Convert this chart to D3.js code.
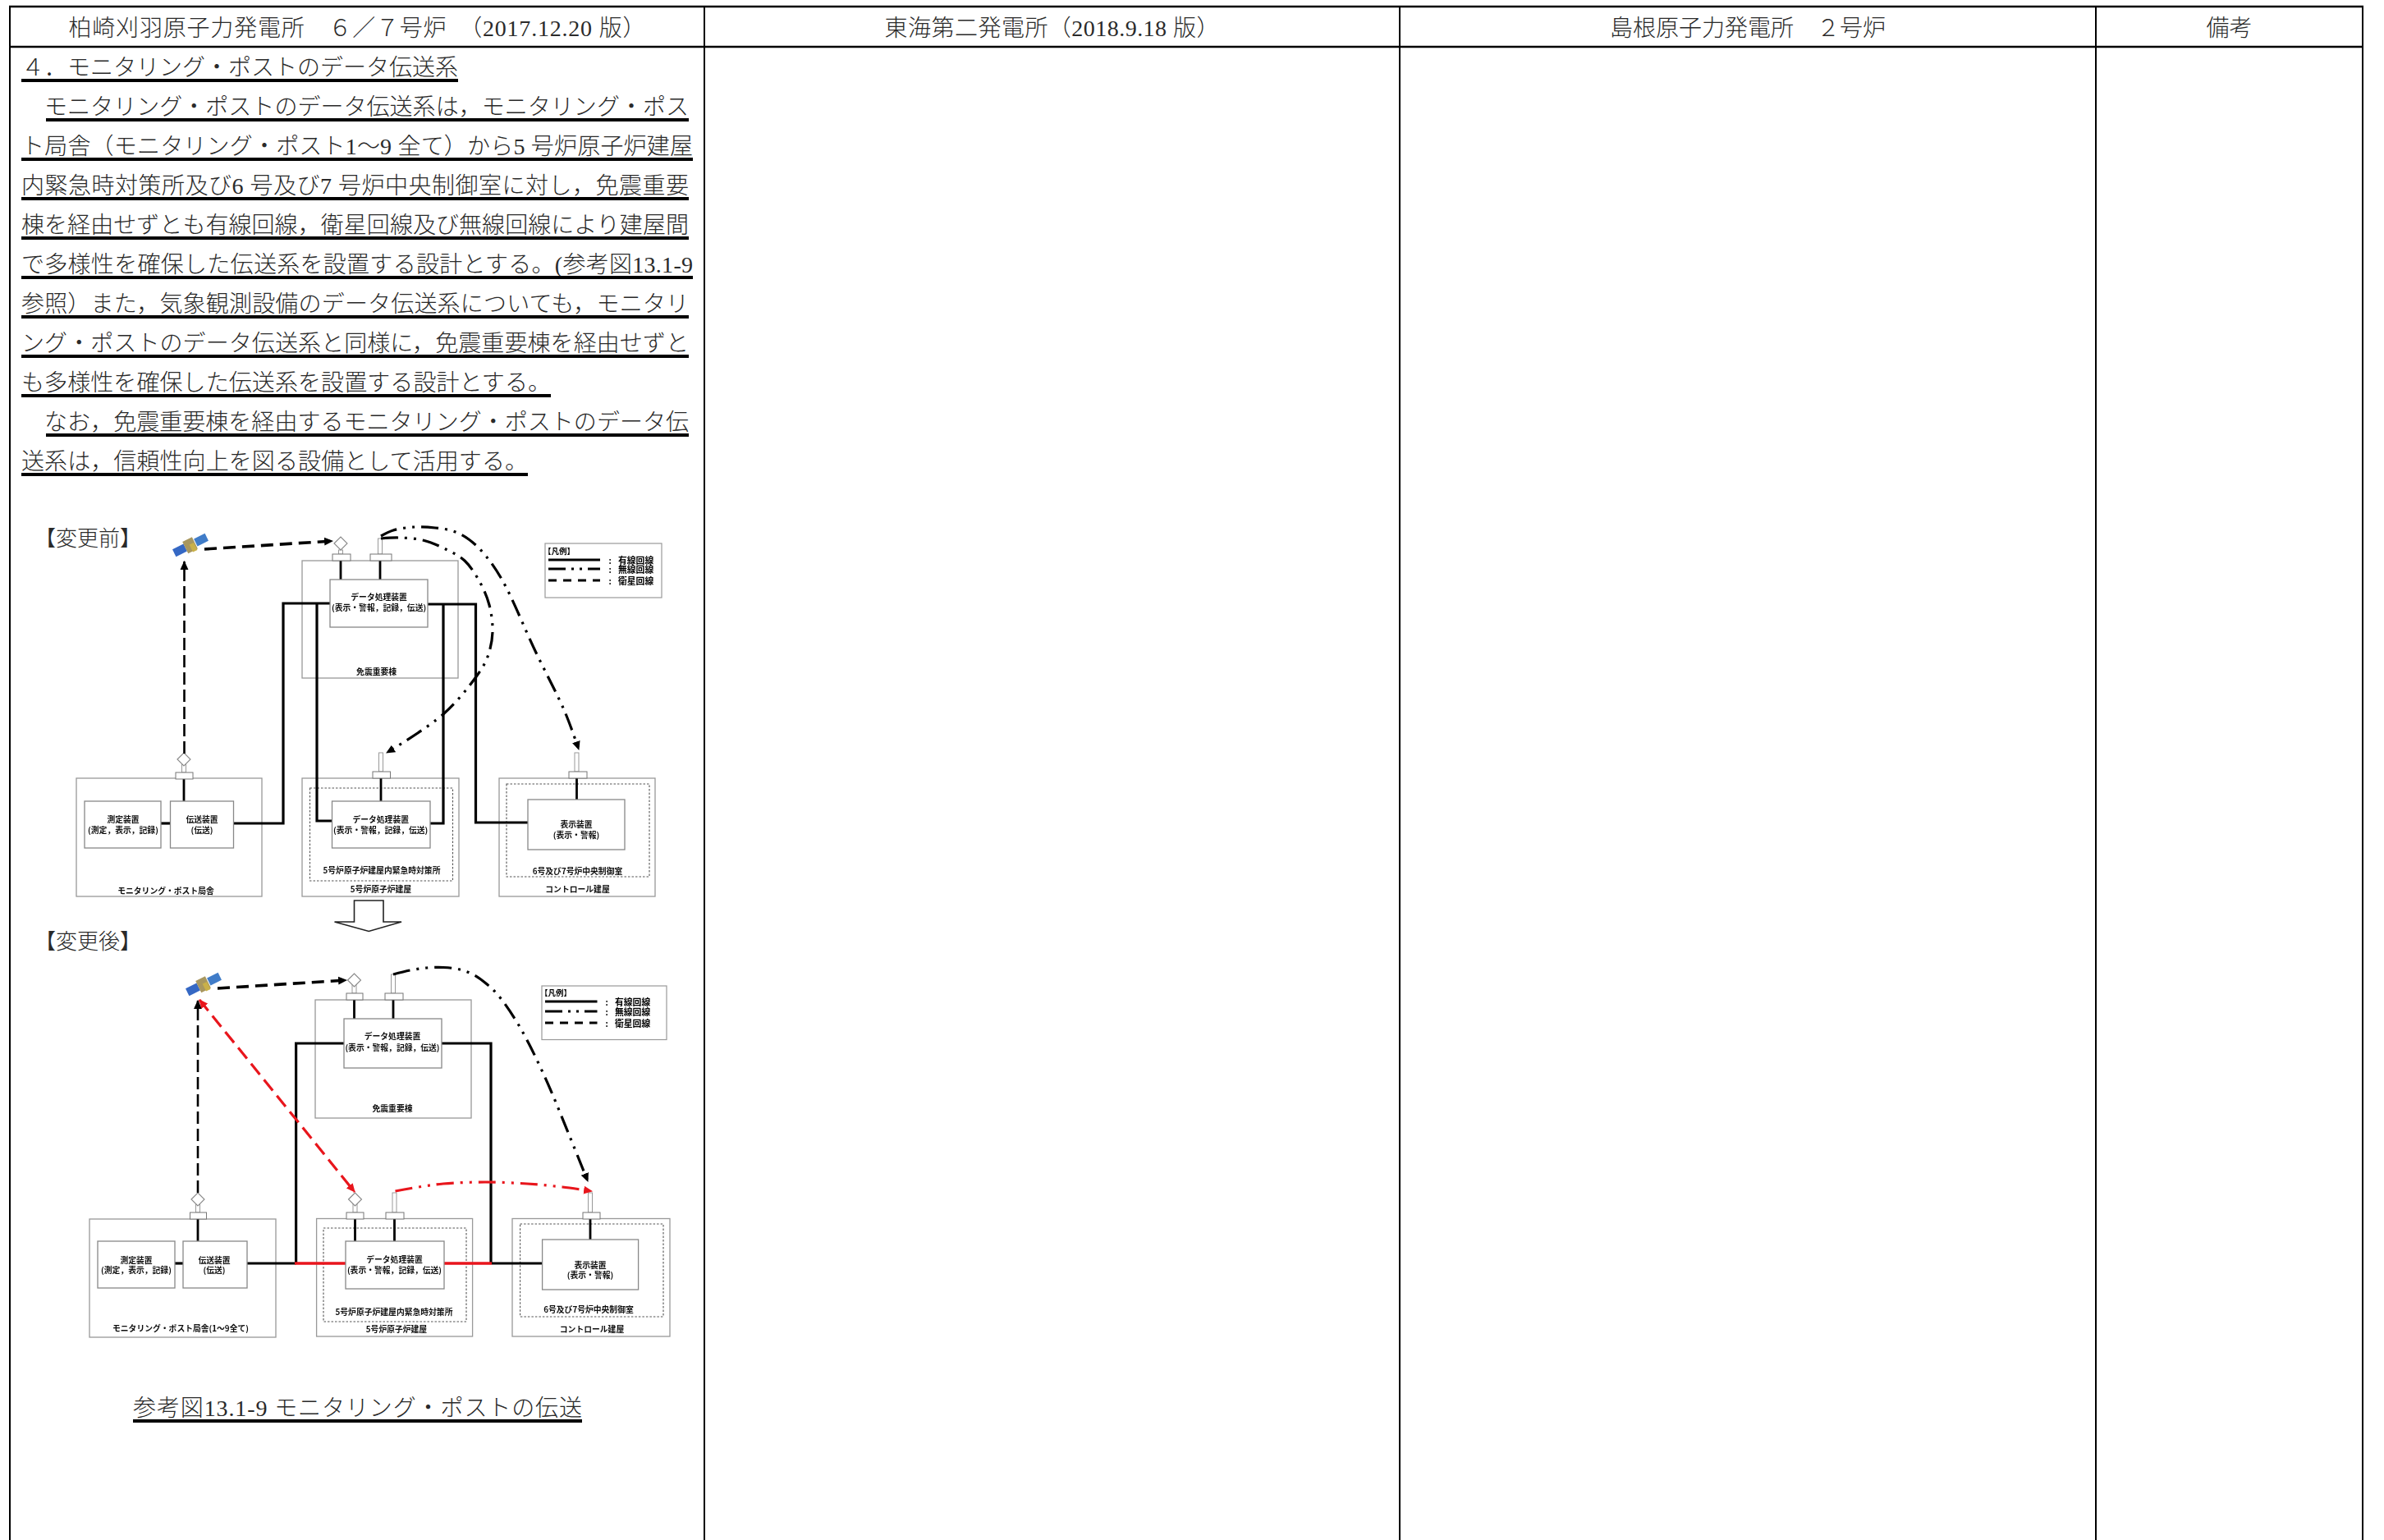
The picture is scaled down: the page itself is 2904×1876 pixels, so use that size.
<!DOCTYPE html>
<html lang="ja">
<head>
<meta charset="utf-8">
<title>モニタリング・ポストのデータ伝送系</title>
<script src="https://cdn.jsdelivr.net/npm/d3@7"></script>
<style>
  html, body { margin: 0; padding: 0; background: #fff; }
  svg { display: block; }
  text { font-family: "Liberation Serif", "Noto Sans CJK JP", sans-serif; white-space: pre; }
  .diagram text { font-family: "Noto Sans CJK JP", sans-serif; }
</style>
</head>
<body>
<script>
////////////////////////////////////////////////////////////
//////////////////////// Text content //////////////////////
////////////////////////////////////////////////////////////

var headerTitles = [
  "柏崎刈羽原子力発電所　６／７号炉　（2017.12.20 版）",
  "東海第二発電所（2018.9.18 版）",
  "島根原子力発電所　２号炉",
  "備考"
];

var proseLines = [
  "４．モニタリング・ポストのデータ伝送系",
  "　モニタリング・ポストのデータ伝送系は，モニタリング・ポス",
  "ト局舎（モニタリング・ポスト1～9 全て）から5 号炉原子炉建屋",
  "内緊急時対策所及び6 号及び7 号炉中央制御室に対し，免震重要",
  "棟を経由せずとも有線回線，衛星回線及び無線回線により建屋間",
  "で多様性を確保した伝送系を設置する設計とする。(参考図13.1-9",
  "参照）また，気象観測設備のデータ伝送系についても，モニタリ",
  "ング・ポストのデータ伝送系と同様に，免震重要棟を経由せずと",
  "も多様性を確保した伝送系を設置する設計とする。",
  "　なお，免震重要棟を経由するモニタリング・ポストのデータ伝",
  "送系は，信頼性向上を図る設備として活用する。"
];

var figureCaption = "参考図13.1-9 モニタリング・ポストの伝送";
var panelTitles = ["【変更前】", "【変更後】"];
var legendTitle = "【凡例】";
var legendLabels = ["有線回線", "無線回線", "衛星回線"];

var beforeLabels = [
  "データ処理装置", "(表示・警報，記録，伝送)", "免震重要棟",
  "測定装置", "(測定，表示，記録)", "伝送装置", "(伝送)", "モニタリング・ポスト局舎",
  "データ処理装置", "(表示・警報，記録，伝送)", "5号炉原子炉建屋内緊急時対策所", "5号炉原子炉建屋",
  "表示装置", "(表示・警報)", "6号及び7号炉中央制御室", "コントロール建屋"
];
var afterLabels = beforeLabels.slice();
afterLabels[7] = "モニタリング・ポスト局舎(1～9全て)";

////////////////////////////////////////////////////////////
//////////////////////// Page layout ///////////////////////
////////////////////////////////////////////////////////////

var columnEdges = [12, 858, 1705, 2553, 2878];
var headerWidths = [703, 408, 336, 56];
var ruleTop = 8, ruleHeader = 57, pageBottom = 1876;

var textSize = 28;
var lineY = d3.scaleLinear().domain([0, proseLines.length - 1]).range([98, 578]);
var proseWidths = [532, 813, 818, 813, 813, 818, 813, 813, 645, 813, 617];
var captionWidth = 547;

// one table per panel, all in page pixels
var beforePanel = {
  title: [42, 653],
  buildings: [[93, 948, 226, 144], [368, 683, 190, 143], [368, 948, 191, 144], [608, 948, 190, 144]],
  inner: [[377.5, 960, 174, 113], [617, 955, 174, 113]],
  boxes: [[103, 976, 93, 57], [207.5, 976, 77, 57], [402, 706, 119, 58], [404.5, 976, 119.5, 57], [643, 974, 118, 61]],
  wires: [
    [[196, 1003], [207.5, 1003]],
    [[284.6, 1003], [345, 1003], [345, 735], [402, 735]],
    [[386, 735], [386, 1000], [404.5, 1000]],
    [[521, 736], [579.5, 736], [579.5, 1002], [643, 1002]],
    [[540, 736], [540, 1003], [524, 1003]]
  ],
  risers: [[224, 949, 976], [415, 683, 706], [463, 683, 706], [464, 948, 976], [702.5, 948, 974]],
  bases: [[214, 941, 21], [405, 675, 22], [451, 675, 26], [454, 940, 21.5], [693, 940, 22]],
  stems: [[224, 930, 941], [415, 670, 675], [463, 656, 675], [464, 917, 940], [702.5, 917, 940]],
  diamonds: [[224, 925], [415, 662]],
  satellite: [232, 664],
  satDashes: [
    { pts: [[224.5, 918], [224.5, 684]], w: 2.6, dash: "15 6", color: "#000" },
    { pts: [[249, 669], [405, 659]], w: 3.6, dash: "15 8", color: "#000" }
  ],
  radios: [
    { pts: [[464, 656], [486, 655], [515, 658], [545, 670], [566, 683], [585, 710], [596, 737], [600, 770], [594, 800], [581, 823], [540, 870], [471, 917]], color: "#000" },
    { pts: [[464, 653], [479, 646], [505, 642], [530, 643], [552, 647], [571, 657], [590, 675], [612, 707], [652, 793], [688, 867], [705, 913]], color: "#000" }
  ],
  horizontalRed: [],
  legend: { box: [664, 662, 142, 66], title: [662, 671], lineX: [668, 731], lineY: [682, 693, 707], colonX: 743, labelX: 753 },
  arrow: [431.5, 467, 1097, 1123, 407.5, 489, 1134.5],
  labelPos: [
    [461.6, 727], [461.6, 740], [458.6, 818],
    [150, 998], [150, 1011], [246, 998], [246, 1011], [202, 1085],
    [463.7, 998], [463.7, 1011], [465, 1060], [464, 1082.7],
    [702, 1004], [702, 1017], [703.5, 1061], [703.5, 1083]
  ]
};

var afterPanel = {
  title: [42, 1144],
  buildings: [[109, 1485, 227, 144], [384, 1218, 190, 144], [385.6, 1484.5, 190, 143.5], [624, 1484.5, 192, 143.5]],
  inner: [[394, 1496, 174, 114], [633.6, 1491, 174.4, 113]],
  boxes: [[119, 1512, 94, 57], [223, 1512, 78, 57], [419, 1241, 119, 60], [421, 1512, 120, 58], [660.6, 1510, 117, 61]],
  wires: [
    [[213, 1539], [223, 1539]],
    [[301, 1539], [360.6, 1539]],
    [[360.6, 1539], [360.6, 1271], [419, 1271]],
    [[538, 1271], [598, 1271], [598, 1539]],
    [[599, 1539], [660.6, 1539]]
  ],
  risers: [[241, 1485, 1512], [431.5, 1218, 1241], [479, 1218, 1241], [432.5, 1484.5, 1512], [480.5, 1484.5, 1512], [719, 1484.5, 1510]],
  bases: [[231.5, 1477, 20], [422, 1210, 20], [469, 1210, 22], [422, 1477, 21], [470, 1477, 22], [710, 1477, 21]],
  stems: [[241, 1466, 1477], [431.5, 1199, 1210], [479, 1187, 1210], [432.5, 1466, 1477], [480.5, 1453, 1477], [719, 1453, 1477]],
  diamonds: [[241, 1461], [431.5, 1194], [432.5, 1461]],
  satellite: [248, 1199],
  satDashes: [
    { pts: [[241, 1453], [241, 1219]], w: 2.6, dash: "15 6", color: "#000" },
    { pts: [[265, 1204], [422, 1194]], w: 3.6, dash: "15 8", color: "#000" },
    { pts: [[243, 1218], [432, 1452]], w: 3.2, dash: "17 8", color: "#e8141c", both: true }
  ],
  radios: [
    { pts: [[479, 1187], [499.5, 1182], [520, 1179], [540, 1178.5], [560, 1181], [578, 1188], [592, 1198], [606.5, 1212], [632, 1249], [662.7, 1309.7], [693, 1382], [716, 1439]], color: "#000" },
    { pts: [[481.5, 1451], [510, 1446], [540, 1442], [591, 1440], [642, 1442], [685, 1446], [721, 1451]], color: "#e8141c" }
  ],
  horizontalRed: [[[359, 1539], [421, 1539]], [[541, 1539], [599, 1539]]],
  legend: { box: [660, 1201, 152, 65.5], title: [658, 1209], lineX: [664, 727.5], lineY: [1220, 1232, 1246], colonX: 739, labelX: 749 },
  arrow: null,
  labelPos: [
    [478, 1262], [478, 1275.5], [478, 1350],
    [166, 1535], [166, 1547], [261, 1535], [261, 1547], [220, 1617.6],
    [480.5, 1534], [480.5, 1546.5], [480, 1598], [483, 1619],
    [719, 1540.7], [719, 1553], [717, 1595], [721, 1619]
  ]
};

////////////////////////////////////////////////////////////
////////////////////// Create SVG //////////////////////////
////////////////////////////////////////////////////////////

var svg = d3.select("body").append("svg")
  .attr("width", 2904)
  .attr("height", 1876);

var defs = svg.append("defs");

defs.append("filter")
  .attr("id", "soft")
  .attr("x", "-5%").attr("y", "-5%").attr("width", "110%").attr("height", "110%")
  .append("feGaussianBlur")
  .attr("stdDeviation", 0.55);

function addArrow(id, color) {
  defs.append("marker")
    .attr("id", id)
    .attr("markerUnits", "userSpaceOnUse")
    .attr("viewBox", "0 0 10 10")
    .attr("refX", 9).attr("refY", 5)
    .attr("markerWidth", 11).attr("markerHeight", 11)
    .attr("orient", "auto-start-reverse")
    .append("path")
    .attr("d", "M0,0.5L10,5L0,9.5Z")
    .attr("fill", color);
}
addArrow("arrowBlack", "#000");
addArrow("arrowRed", "#e8141c");

svg.append("rect").attr("width", 2904).attr("height", 1876).attr("fill", "#fff");

////////////////////////////////////////////////////////////
////////////////////// Draw the table //////////////////////
////////////////////////////////////////////////////////////

var table = svg.append("g").attr("class", "table");

table.selectAll("line.column")
  .data(columnEdges)
  .enter().append("line")
  .attr("class", "column")
  .attr("x1", function(d) { return d; })
  .attr("x2", function(d) { return d; })
  .attr("y1", ruleTop)
  .attr("y2", pageBottom)
  .attr("stroke", "#000")
  .attr("stroke-width", 2);

table.selectAll("line.rule")
  .data([ruleTop, ruleHeader])
  .enter().append("line")
  .attr("class", "rule")
  .attr("x1", columnEdges[0] - 1)
  .attr("x2", columnEdges[4] + 1)
  .attr("y1", function(d) { return d; })
  .attr("y2", function(d) { return d; })
  .attr("stroke", "#000")
  .attr("stroke-width", 2.4);

table.selectAll("text.header")
  .data(headerTitles)
  .enter().append("text")
  .attr("class", "header")
  .attr("x", function(d, i) { return (columnEdges[i] + columnEdges[i + 1]) / 2; })
  .attr("y", 44)
  .attr("text-anchor", "middle")
  .attr("font-size", textSize)
  .attr("font-weight", 300)
  .attr("fill", "#2a2a2a")
  .attr("textLength", function(d, i) { return headerWidths[i]; })
  .attr("lengthAdjust", "spacing")
  .text(function(d) { return d; });

////////////////////////////////////////////////////////////
////////////////// Underlined prose ////////////////////////
////////////////////////////////////////////////////////////

function underlinedText(parent, str, x, y, width) {
  parent.append("text")
    .attr("x", x)
    .attr("y", y - 6)
    .attr("font-size", textSize)
    .attr("font-weight", 300)
    .attr("fill", "#2a2a2a")
    .attr("textLength", width)
    .attr("lengthAdjust", "spacing")
    .text(str);
  var indent = str.charAt(0) === "　" ? textSize + 2 : 0;
  parent.append("rect")
    .attr("x", x + indent)
    .attr("y", Math.round(y) - 2)
    .attr("width", width - indent)
    .attr("height", 4)
    .attr("fill", "#000");
}

var prose = svg.append("g").attr("class", "prose");
proseLines.forEach(function(d, i) { underlinedText(prose, d, 26, lineY(i), proseWidths[i]); });
underlinedText(prose, figureCaption, 162, 1731, captionWidth);

////////////////////////////////////////////////////////////
////////////////// Diagram panels //////////////////////////
////////////////////////////////////////////////////////////

var pathLine = d3.line();
var curveLine = d3.line().curve(d3.curveCatmullRom.alpha(0.5));

function drawLegend(g, lg) {
  g.append("rect")
    .attr("x", lg.box[0]).attr("y", lg.box[1])
    .attr("width", lg.box[2]).attr("height", lg.box[3])
    .attr("fill", "#fff").attr("stroke", "#999").attr("stroke-width", 1.2);
  g.append("text")
    .attr("x", lg.title[0]).attr("y", lg.title[1])
    .attr("dominant-baseline", "central")
    .attr("font-size", 9.5).attr("font-weight", 700)
    .text(legendTitle);
  var dashes = [null, "21 7 3 7 3 7 21", "10 8"];
  lg.lineY.forEach(function(y, i) {
    g.append("line")
      .attr("x1", lg.lineX[0]).attr("x2", lg.lineX[1])
      .attr("y1", y).attr("y2", y)
      .attr("stroke", "#000").attr("stroke-width", 3)
      .attr("stroke-dasharray", dashes[i]);
    g.append("text")
      .attr("x", lg.colonX).attr("y", y)
      .attr("dominant-baseline", "central").attr("text-anchor", "middle")
      .attr("font-size", 10).attr("font-weight", 700)
      .text(":");
    g.append("text")
      .attr("x", lg.labelX).attr("y", y)
      .attr("dominant-baseline", "central")
      .attr("font-size", 10.8).attr("font-weight", 700)
      .text(legendLabels[i]);
  });
}

function drawSatellite(g, pos) {
  var sat = g.append("g")
    .attr("transform", "translate(" + pos[0] + "," + pos[1] + ") rotate(-26)");
  sat.append("rect").attr("x", -22).attr("y", -5).attr("width", 15).attr("height", 10).attr("fill", "#3668c4");
  sat.append("rect").attr("x", 7).attr("y", -5).attr("width", 15).attr("height", 10).attr("fill", "#3f7cc8");
  sat.append("rect").attr("x", -7).attr("y", -8).attr("width", 13).attr("height", 16).attr("fill", "#a8975e");
  sat.append("rect").attr("x", -1).attr("y", -1).attr("width", 6).attr("height", 10).attr("fill", "#c9b04a");
}

function drawPanel(panel, labels) {
  var g = svg.append("g").attr("class", "diagram");

  g.append("text")
    .attr("x", panel.title[0]).attr("y", panel.title[1])
    .attr("dominant-baseline", "central")
    .attr("font-size", 26)
    .attr("font-weight", 300)
    .attr("fill", "#2a2a2a")
    .text(panelTitles[panel === beforePanel ? 0 : 1]);

  var art = g.append("g").attr("filter", "url(#soft)");

  // buildings, thin grey outlines
  art.selectAll("rect.building")
    .data(panel.buildings)
    .enter().append("rect")
    .attr("class", "building")
    .attr("x", function(d) { return d[0]; })
    .attr("y", function(d) { return d[1]; })
    .attr("width", function(d) { return d[2]; })
    .attr("height", function(d) { return d[3]; })
    .attr("fill", "none")
    .attr("stroke", "#999")
    .attr("stroke-width", 1.3);

  art.selectAll("rect.inner")
    .data(panel.inner)
    .enter().append("rect")
    .attr("class", "inner")
    .attr("x", function(d) { return d[0]; })
    .attr("y", function(d) { return d[1]; })
    .attr("width", function(d) { return d[2]; })
    .attr("height", function(d) { return d[3]; })
    .attr("fill", "none")
    .attr("stroke", "#555")
    .attr("stroke-width", 1.1)
    .attr("stroke-dasharray", "2.5 2");

  // wired lines
  art.selectAll("path.wire")
    .data(panel.wires)
    .enter().append("path")
    .attr("class", "wire")
    .attr("d", function(d) { return pathLine(d); })
    .attr("fill", "none")
    .attr("stroke", "#000")
    .attr("stroke-width", 3.2);

  art.selectAll("path.wireRed")
    .data(panel.horizontalRed)
    .enter().append("path")
    .attr("class", "wireRed")
    .attr("d", function(d) { return pathLine(d); })
    .attr("fill", "none")
    .attr("stroke", "#e8141c")
    .attr("stroke-width", 3.6);

  art.selectAll("line.riser")
    .data(panel.risers)
    .enter().append("line")
    .attr("class", "riser")
    .attr("x1", function(d) { return d[0]; })
    .attr("x2", function(d) { return d[0]; })
    .attr("y1", function(d) { return d[1]; })
    .attr("y2", function(d) { return d[2]; })
    .attr("stroke", "#000")
    .attr("stroke-width", 2.8);

  art.selectAll("rect.box")
    .data(panel.boxes)
    .enter().append("rect")
    .attr("class", "box")
    .attr("x", function(d) { return d[0]; })
    .attr("y", function(d) { return d[1]; })
    .attr("width", function(d) { return d[2]; })
    .attr("height", function(d) { return d[3]; })
    .attr("fill", "#fff")
    .attr("stroke", "#888")
    .attr("stroke-width", 1.3);

  // antennas: stem, mount, diamond
  art.selectAll("rect.stem")
    .data(panel.stems)
    .enter().append("rect")
    .attr("class", "stem")
    .attr("x", function(d) { return d[0] - 2.5; })
    .attr("y", function(d) { return d[1]; })
    .attr("width", 5)
    .attr("height", function(d) { return d[2] - d[1]; })
    .attr("fill", "#fff")
    .attr("stroke", "#999")
    .attr("stroke-width", 1);

  art.selectAll("rect.base")
    .data(panel.bases)
    .enter().append("rect")
    .attr("class", "base")
    .attr("x", function(d) { return d[0]; })
    .attr("y", function(d) { return d[1]; })
    .attr("width", function(d) { return d[2]; })
    .attr("height", 8)
    .attr("fill", "#fff")
    .attr("stroke", "#777")
    .attr("stroke-width", 1);

  art.selectAll("path.diamond")
    .data(panel.diamonds)
    .enter().append("path")
    .attr("class", "diamond")
    .attr("d", function(d) {
      return pathLine([[d[0] - 8, d[1]], [d[0], d[1] - 8], [d[0] + 8, d[1]], [d[0], d[1] + 8]]) + "Z";
    })
    .attr("fill", "#fff")
    .attr("stroke", "#888")
    .attr("stroke-width", 1.1);

  // satellite and radio links
  drawSatellite(art, panel.satellite);

  art.selectAll("path.satLink")
    .data(panel.satDashes)
    .enter().append("path")
    .attr("class", "satLink")
    .attr("d", function(d) { return pathLine(d.pts); })
    .attr("fill", "none")
    .attr("stroke", function(d) { return d.color; })
    .attr("stroke-width", function(d) { return d.w; })
    .attr("stroke-dasharray", function(d) { return d.dash; })
    .attr("marker-end", function(d) { return d.color === "#000" ? "url(#arrowBlack)" : "url(#arrowRed)"; })
    .attr("marker-start", function(d) { return d.both ? "url(#arrowRed)" : null; });

  art.selectAll("path.radio")
    .data(panel.radios)
    .enter().append("path")
    .attr("class", "radio")
    .attr("d", function(d) { return curveLine(d.pts); })
    .attr("fill", "none")
    .attr("stroke", function(d) { return d.color; })
    .attr("stroke-width", 3.2)
    .attr("stroke-dasharray", "21 8 3 8 3 8")
    .attr("marker-end", function(d) { return d.color === "#000" ? "url(#arrowBlack)" : "url(#arrowRed)"; });

  art.selectAll("text.label")
    .data(labels)
    .enter().append("text")
    .attr("class", "label")
    .attr("x", function(d, i) { return panel.labelPos[i][0]; })
    .attr("y", function(d, i) { return panel.labelPos[i][1]; })
    .attr("text-anchor", "middle")
    .attr("dominant-baseline", "central")
    .attr("font-size", 9.8)
    .attr("font-weight", 700)
    .attr("fill", "#111")
    .text(function(d) { return d; });

  drawLegend(art, panel.legend);

  if (panel.arrow) {
    var a = panel.arrow;
    art.append("path")
      .attr("d", pathLine([[a[0], a[2]], [a[1], a[2]], [a[1], a[3]], [a[5], a[3]], [(a[0] + a[1]) / 2, a[6]], [a[4], a[3]], [a[0], a[3]]]) + "Z")
      .attr("fill", "#fff")
      .attr("stroke", "#222")
      .attr("stroke-width", 1.6);
  }
}

drawPanel(beforePanel, beforeLabels);
drawPanel(afterPanel, afterLabels);
</script>
</body>
</html>
